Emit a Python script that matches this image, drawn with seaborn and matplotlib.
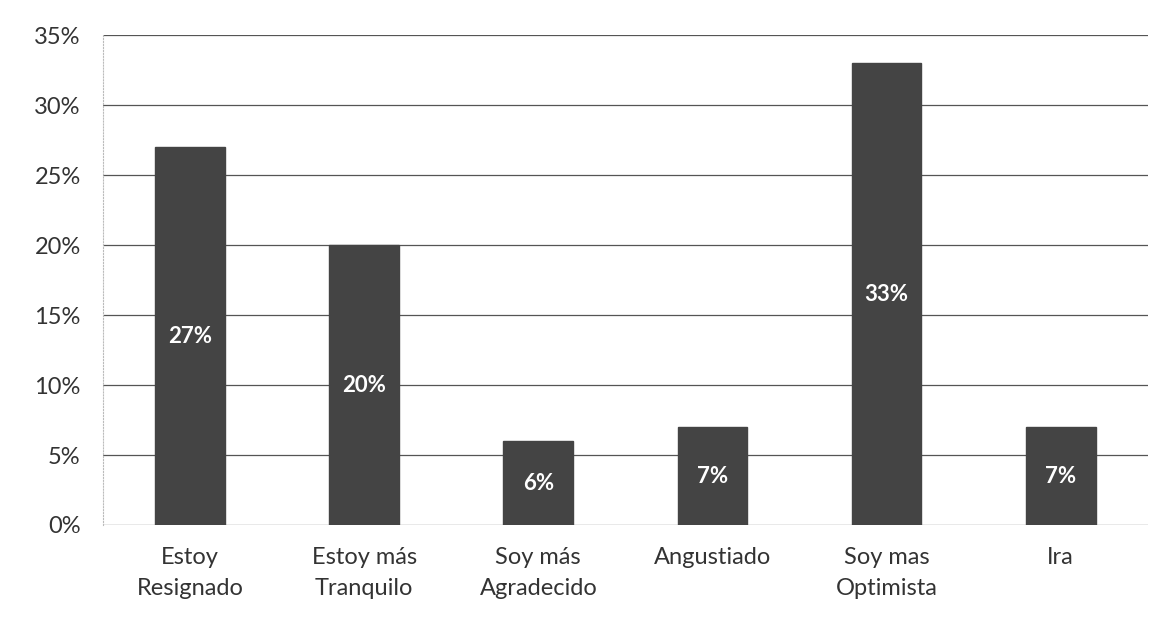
import matplotlib
matplotlib.use("Agg")
import matplotlib.pyplot as plt
import pandas as pd
import seaborn as sns
from matplotlib.ticker import FuncFormatter

## datos
categorias = ["Estoy\nResignado", "Estoy más\nTranquilo", "Soy más\nAgradecido",
              "Angustiado", "Soy mas\nOptimista", "Ira"]
porcentajes = [27, 20, 6, 7, 33, 7]
etiquetas = ["27%", "20%", "6%", "7%", "33%", "7%"]

df = pd.DataFrame({"categoria": categorias, "valor": porcentajes})

sns.set_theme(style="white")
plt.rcParams["font.family"] = ["Lato", "DejaVu Sans"]

fig = plt.figure(figsize=(11.7, 6.41), dpi=100)
ax = fig.add_axes([0.088, 0.181, 0.893, 0.764])

sns.barplot(data=df, x="categoria", y="valor", color="#444444", width=0.4,
            saturation=1, ax=ax, zorder=3, edgecolor="#444444")

#etiquetas blancas en el centro de cada barra
for i, (v, t) in enumerate(zip(porcentajes, etiquetas)):
    ax.text(i, v / 2, t, ha="center", va="center", color="white",
            fontsize=16, fontweight="bold", zorder=4)

ax.set_ylim(0, 35)
ax.set_yticks(range(0, 36, 5))
ax.yaxis.set_major_formatter(FuncFormatter(lambda y, _: f"{int(y)}%"))
ax.grid(axis="y", color="#555555", linewidth=0.9, zorder=0)
ax.set_xlabel("")
ax.set_ylabel("")
ax.tick_params(axis="both", labelsize=17, colors="#333333", length=0)
ax.tick_params(axis="x", pad=16)
ax.tick_params(axis="y", pad=16)
for lbl in ax.get_xticklabels():
    lbl.set_linespacing(1.55)

for s in ["top", "right", "bottom"]:
    ax.spines[s].set_visible(False)
ax.spines["left"].set_color("#bbbbbb")
ax.spines["left"].set_linestyle(":")
ax.spines["left"].set_linewidth(0.8)

fig.savefig("out.png", dpi=100, facecolor="white")
